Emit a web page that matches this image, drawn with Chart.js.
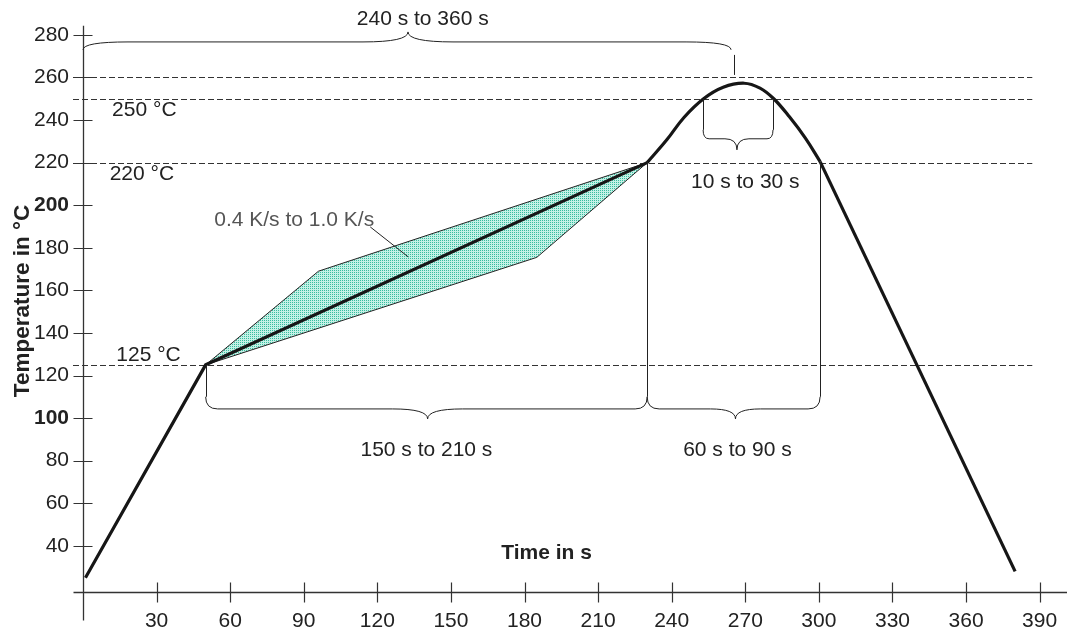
<!DOCTYPE html>
<html>
<head>
<meta charset="utf-8">
<title>Reflow profile</title>
<script src="https://cdn.jsdelivr.net/npm/chart.js@4.4.1/dist/chart.umd.min.js"></script>
<style>
  html, body { margin: 0; padding: 0; background: #fff; }
  #wrap { width: 1067px; height: 635px; }
</style>
</head>
<body>
<div id="wrap"><canvas id="chart" width="1067" height="635"></canvas></div>
<script>
// -----------------------------
// Data
// -----------------------------
const xTicks = [30, 60, 90, 120, 150, 180, 210, 240, 270, 300, 330, 360, 390];
const yTicks = [40, 60, 80, 100, 120, 140, 160, 180, 200, 220, 240, 260, 280];
const boldTicks = [100, 200];

// preheat ramp + soak (linear)
const rampTime = [1, 50, 230];
const rampTemp = [25, 125, 220];

// reflow peak (smooth)
const peakTime = [230, 238, 245, 253, 261, 269.5, 276, 281.6, 288, 294.5, 300.5];
const peakTemp = [220, 230.7, 241.2, 250, 255.4, 257.3, 255, 250, 241.5, 231.5, 220.5];

// cooling (linear)
const coolTime = [300.5, 380];
const coolTemp = [220.5, 28];

// 0.4 K/s .. 1.0 K/s band
const bandUpperTime = [50, 96, 230];
const bandUpperTemp = [125, 169, 220];
const bandLowerTime = [50, 185, 230];
const bandLowerTemp = [125, 175.5, 220];

// dashed limit lines
const limitTemps = [260, 250, 220, 125];

function toPoints(xs, ys) {
  return xs.map((v, i) => ({ x: v, y: ys[i] }));
}


// -----------------------------
// Annotations (seconds / °C)
// -----------------------------
const labels = [
  { text: "240 s to 360 s", x: 138.5, y: 287.8 },
  { text: "250 °C", x: 25, y: 245.2 },
  { text: "220 °C", x: 24, y: 214.9 },
  { text: "125 °C", x: 26.7, y: 130 },
  { text: "10 s to 30 s", x: 270, y: 211.4 },
  { text: "0.4 K/s to 1.0 K/s", x: 86.1, y: 193.6, color: "#555" },
  { text: "150 s to 210 s", x: 140, y: 85.5 },
  { text: "60 s to 90 s", x: 266.8, y: 85.5 },
  { text: "Time in s", x: 189, y: 37.2, bold: true }
];

// x1, x2, end level, line level, tip level, tip x, corner / tip widths (px)
const braces = [
  { x1: 0, x2: 264.2, yEnd: 273, yLine: 276.7, yTip: 281.4, xTip: 132.5, r: 45, w: 45 },
  { x1: 252.8, x2: 281.3, yEnd: 235.4, yLine: 231.2, yTip: 226, xTip: 266.6, r: 6, w: 12 },
  { x1: 50, x2: 230, yEnd: 110, yLine: 104.3, yTip: 99.6, xTip: 140.5, r: 12, w: 35 },
  { x1: 230, x2: 300.5, yEnd: 110, yLine: 104.3, yTip: 99.6, xTip: 266, r: 12, w: 25 }
];

const verticals = [
  { x: 265.5, y1: 270.6, y2: 261.2 },
  { x: 252.8, y1: 250, y2: 235.4 },
  { x: 281.3, y1: 250, y2: 235.4 },
  { x: 50, y1: 125, y2: 110 },
  { x: 230, y1: 220, y2: 110 },
  { x: 300.5, y1: 220.5, y2: 110 }
];

const leader = { x1: 117.1, y1: 189.8, x2: 132.6, y2: 175.7 };

const FONT = '"Liberation Sans", Arial, sans-serif';
Chart.defaults.font.family = FONT;
Chart.defaults.font.size = 21;
Chart.defaults.color = "#222";


// -----------------------------
// Stipple pattern for band
// -----------------------------
function makeStipple() {
  const c = document.createElement("canvas");
  c.width = 2;
  c.height = 2;
  const g = c.getContext("2d");
  g.fillStyle = "#c4f1e6";
  g.fillRect(0, 0, 2, 2);
  g.fillStyle = "#38bd9f";
  g.fillRect(0, 0, 1, 1);
  return g.createPattern(c, "repeat");
}


// -----------------------------
// Drawing helpers
// -----------------------------
function drawBrace(ctx, b, sx, sy) {
  const x1 = sx(b.x1), x2 = sx(b.x2), xm = sx(b.xTip);
  const yEnd = sy(b.yEnd), yLine = sy(b.yLine), yTip = sy(b.yTip);

  ctx.beginPath();
  ctx.moveTo(x1, yEnd);
  ctx.quadraticCurveTo(x1, yLine, x1 + b.r, yLine);
  ctx.lineTo(xm - b.w, yLine);
  ctx.quadraticCurveTo(xm, yLine, xm, yTip);
  ctx.quadraticCurveTo(xm, yLine, xm + b.w, yLine);
  ctx.lineTo(x2 - b.r, yLine);
  ctx.quadraticCurveTo(x2, yLine, x2, yEnd);
  ctx.stroke();
}

const annotate = {
  id: "annotate",

  beforeDatasetsDraw(chart) {
    const { ctx, scales: { x, y } } = chart;
    const x0 = x.getPixelForValue(0);

    ctx.save();
    ctx.strokeStyle = "#333";
    ctx.lineWidth = 1;
    ctx.setLineDash([6, 3]);
    limitTemps.forEach(t => {
      const py = Math.round(y.getPixelForValue(t)) + 0.5;
      ctx.beginPath();
      ctx.moveTo(x0 - 10, py);
      ctx.lineTo(x.getPixelForValue(387), py);
      ctx.stroke();
    });
    ctx.restore();
  },

  afterDatasetsDraw(chart) {
    const { ctx, scales: { x, y } } = chart;
    const sx = v => x.getPixelForValue(v);
    const sy = v => y.getPixelForValue(v);
    const x0 = Math.round(sx(0)) + 0.5;
    const yb = Math.round(y.bottom) + 0.5;

    ctx.save();

    // axes crossing each other
    ctx.strokeStyle = "#333";
    ctx.lineWidth = 1.3;
    ctx.beginPath();
    ctx.moveTo(x0 - 10, yb);
    ctx.lineTo(chart.width, yb);
    ctx.moveTo(x0, sy(284.3));
    ctx.lineTo(x0, yb + 28);
    ctx.stroke();

    // tick marks
    ctx.lineWidth = 1.2;
    ctx.beginPath();
    xTicks.forEach(v => {
      const px = Math.round(sx(v)) + 0.5;
      ctx.moveTo(px, yb - 10);
      ctx.lineTo(px, yb + 10);
    });
    yTicks.forEach(v => {
      const py = Math.round(sy(v)) + 0.5;
      ctx.moveTo(x0 - 10, py);
      ctx.lineTo(x0 + 9, py);
    });
    ctx.stroke();

    // braces and their guide lines
    ctx.strokeStyle = "#222";
    ctx.lineWidth = 1;
    ctx.beginPath();
    verticals.forEach(v => {
      const px = Math.round(sx(v.x)) + 0.5;
      ctx.moveTo(px, sy(v.y1));
      ctx.lineTo(px, sy(v.y2));
    });
    ctx.moveTo(sx(leader.x1), sy(leader.y1));
    ctx.lineTo(sx(leader.x2), sy(leader.y2));
    ctx.stroke();

    braces.forEach(b => drawBrace(ctx, b, sx, sy));

    // texts
    ctx.textAlign = "center";
    ctx.textBaseline = "middle";
    labels.forEach(l => {
      ctx.font = (l.bold ? "bold " : "") + "21px " + FONT;
      ctx.fillStyle = l.color || "#222";
      ctx.fillText(l.text, sx(l.x), sy(l.y) + 1);
    });

    ctx.restore();
  }
};


// -----------------------------
// Chart
// -----------------------------
const lineStyle = {
  showLine: true,
  pointRadius: 0,
  borderColor: "#161616",
  borderWidth: 3.2,
  fill: false
};

new Chart(document.getElementById("chart"), {
  type: "scatter",
  data: {
    datasets: [
      Object.assign({ label: "ramp", data: toPoints(rampTime, rampTemp), tension: 0 }, lineStyle),
      Object.assign({ label: "peak", data: toPoints(peakTime, peakTemp), tension: 0.4 }, lineStyle),
      Object.assign({ label: "cool", data: toPoints(coolTime, coolTemp), tension: 0 }, lineStyle),
      {
        label: "band upper",
        data: toPoints(bandUpperTime, bandUpperTemp),
        showLine: true,
        pointRadius: 0,
        borderColor: "#222",
        borderWidth: 1,
        fill: false
      },
      {
        label: "band lower",
        data: toPoints(bandLowerTime, bandLowerTemp),
        showLine: true,
        pointRadius: 0,
        borderColor: "#222",
        borderWidth: 1,
        backgroundColor: makeStipple(),
        fill: "-1"
      }
    ]
  },
  options: {
    responsive: false,
    animation: false,
    devicePixelRatio: 1,
    layout: { padding: { top: 10, right: 20, left: 0, bottom: 0 } },
    plugins: {
      legend: { display: false },
      tooltip: { enabled: false }
    },
    scales: {
      x: {
        type: "linear",
        min: 0,
        max: 393,
        grid: { display: false, drawTicks: false },
        border: { display: false },
        afterBuildTicks: scale => { scale.ticks = xTicks.map(v => ({ value: v })); },
        afterFit: scale => {
          scale.height = 43;
          scale.paddingLeft = 0;
          scale.paddingRight = 0;
        },
        ticks: { padding: 17, color: "#222", maxRotation: 0, autoSkip: false }
      },
      y: {
        type: "linear",
        min: 18.3,
        max: 291.7,
        grid: { display: false, drawTicks: false },
        border: { display: false },
        afterBuildTicks: scale => { scale.ticks = yTicks.map(v => ({ value: v })); },
        afterFit: scale => {
          scale.width = 83;
          scale.paddingTop = 0;
          scale.paddingBottom = 0;
        },
        ticks: {
          padding: 14,
          color: "#222",
          autoSkip: false,
          font: ctx => ({ size: 21, weight: boldTicks.includes(ctx.tick && ctx.tick.value) ? "bold" : "normal" })
        },
        title: {
          display: true,
          text: "Temperature in °C",
          color: "#222",
          font: { size: 22.5, weight: "bold" },
          padding: { top: 9, bottom: 0 }
        }
      }
    }
  },
  plugins: [annotate]
});
</script>
</body>
</html>
